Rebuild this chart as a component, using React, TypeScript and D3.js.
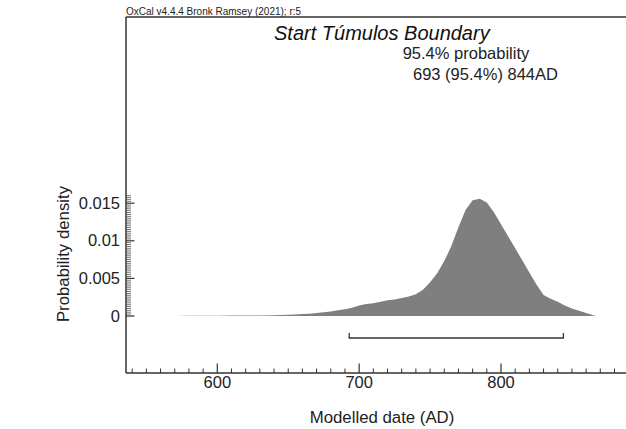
import React from "react";
import * as d3 from "d3";

// Posterior density of the "Start Túmulos Boundary" (calendar years AD)
const years = [
  565, 570, 580, 590, 600, 610, 620, 630, 640, 650, 655, 660, 665, 670, 675, 680, 685, 690, 695,
  700, 705, 710, 715, 720, 725, 730, 735, 740, 745, 750, 755, 760, 765, 770, 775, 780, 785, 790,
  795, 800, 805, 810, 815, 820, 825, 830, 835, 840, 845, 850, 855, 860, 865, 867,
];
const density = [
  0, 0.00001, 0.00002, 0.00003, 0.00004, 0.00005, 0.00006, 0.00008, 0.0001, 0.00015, 0.0002,
  0.00025, 0.0003, 0.0004, 0.0005, 0.0006, 0.00075, 0.0009, 0.0011, 0.0014, 0.0016, 0.0017,
  0.0019, 0.0021, 0.0022, 0.0024, 0.0026, 0.0029, 0.0035, 0.0045, 0.0057, 0.0073, 0.0093,
  0.0118, 0.0141, 0.0154, 0.0156, 0.0151, 0.0138, 0.0122, 0.0106, 0.009, 0.0074, 0.0058, 0.0042,
  0.0028, 0.0023, 0.0019, 0.0014, 0.001, 0.0007, 0.0004, 0.0001, 0,
];

// 95.4% highest posterior density range
const rangeFrom = 693;
const rangeTo = 844;

const xTickValues = [600, 700, 800];
const yTickValues = [0, 0.005, 0.01, 0.015];
const yTickLabels = ["0", "0.005", "0.01", "0.015"];

const headerText = "OxCal v4.4.4 Bronk Ramsey (2021); r:5";
const titleText = "Start Túmulos Boundary";
const probText = "95.4% probability";
const rangeText = `${rangeFrom} (95.4%) ${rangeTo}AD`;
const xLabel = "Modelled date (AD)";
const yLabel = "Probability density";

const W = 626;
const H = 429;
const frameLeft = 126;
const frameTop = 17;
const axisY = 373;
const font = "'Liberation Sans', Arial, sans-serif";
const ink = "#333";

export default function App() {
  const x = d3.scaleLinear().domain([600, 800]).range([217.3, 501]);
  const y = d3.scaleLinear().domain([0, 0.015]).range([316, 203.2]);

  const area = d3
    .area<number>()
    .x((_, i) => x(years[i]))
    .y0(y(0))
    .y1((d) => y(d));

  const xMin = Math.ceil(x.invert(frameLeft) / 10) * 10;
  const xMax = Math.floor(x.invert(W) / 10) * 10;
  const xMinor = d3.range(xMin, xMax + 1, 10).filter((v) => v % 100 !== 0);
  const yMinor = d3.range(0, 0.01625, 0.00025).filter((v) => Math.abs((v / 0.005) - Math.round(v / 0.005)) > 1e-6);

  const bracketY = 338;

  return (
    <svg
      width={W}
      height={H}
      style={{ position: "absolute", left: 0, top: 0, background: "#fff" }}
      fontFamily={font}
    >
      <rect x={0} y={0} width={W} height={H} fill="#fff" />

      {/* density */}
      <path d={area(density) ?? ""} fill="#7f7f7f" />

      {/* range bracket */}
      <path
        d={`M${x(rangeFrom)},${bracketY - 5}V${bracketY}H${x(rangeTo)}V${bracketY - 5}`}
        fill="none"
        stroke={ink}
        strokeWidth={1.3}
      />

      {/* frame */}
      <line x1={frameLeft} x2={W} y1={frameTop} y2={frameTop} stroke={ink} strokeWidth={1.5} />
      <line x1={frameLeft} x2={frameLeft} y1={frameTop} y2={axisY} stroke={ink} strokeWidth={1.5} />
      <line x1={frameLeft} x2={W} y1={axisY} y2={axisY} stroke={ink} strokeWidth={1.5} />

      {/* x ticks */}
      {xMinor.map((v) => (
        <line key={`xm${v}`} x1={x(v)} x2={x(v)} y1={axisY} y2={axisY - 4.5} stroke={ink} strokeWidth={1} />
      ))}
      {xTickValues.map((v) => (
        <g key={`xt${v}`}>
          <line x1={x(v)} x2={x(v)} y1={axisY} y2={axisY - 9.5} stroke={ink} strokeWidth={1.2} />
          <text x={x(v)} y={387.5} textAnchor="middle" fontSize={16.5} fill="#222">
            {v}
          </text>
        </g>
      ))}

      {/* y ticks */}
      {yMinor.map((v) => (
        <line key={`ym${v}`} x1={frameLeft} x2={frameLeft + 5} y1={y(v)} y2={y(v)} stroke="#555" strokeWidth={0.8} />
      ))}
      {yTickValues.map((v, i) => (
        <g key={`yt${v}`}>
          <line x1={frameLeft} x2={frameLeft + 8.5} y1={y(v)} y2={y(v)} stroke={ink} strokeWidth={1.2} />
          <text x={120} y={y(v) + 5.5} textAnchor="end" fontSize={16.5} fill="#222">
            {yTickLabels[i]}
          </text>
        </g>
      ))}

      {/* texts */}
      <text x={frameLeft} y={15} fontSize={10} fill="#222">
        {headerText}
      </text>
      <text x={274} y={39.5} fontSize={20} fontStyle="italic" fill="#111">
        {titleText}
      </text>
      <text x={402.7} y={59} fontSize={16.5} fill="#222">
        {probText}
      </text>
      <text x={413} y={80} fontSize={16.5} fill="#222">
        {rangeText}
      </text>
      <text x={382} y={422.5} textAnchor="middle" fontSize={16.8} fill="#222">
        {xLabel}
      </text>
      <text
        transform={`translate(69,254) rotate(-90)`}
        textAnchor="middle"
        fontSize={16.8}
        fill="#222"
      >
        {yLabel}
      </text>
    </svg>
  );
}
